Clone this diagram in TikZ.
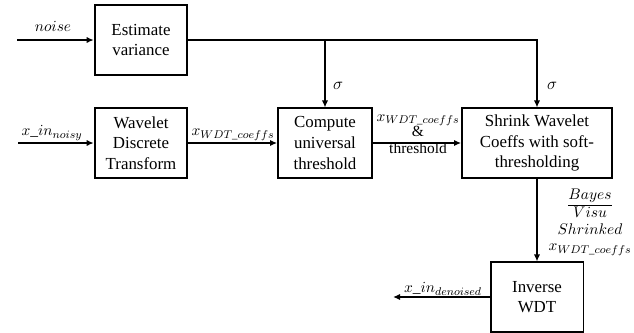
\documentclass[tikz,border=0pt]{standalone}
\usepackage{amsmath}
\usepackage{fontspec}
\setmainfont{Liberation Serif}
\usetikzlibrary{arrows.meta,positioning}

\begin{document}
\begin{tikzpicture}[x=0.025cm,y=-0.025cm,
    blk/.style={draw,line width=1.3pt,align=center,inner sep=2pt,
      minimum width=2.32cm,minimum height=1.73cm,
      font=\fontsize{12}{14.6}\selectfont},
    lnk/.style={line width=1.1pt,-{Latex[length=5pt,width=4.5pt]}},
    lbl/.style={inner sep=1pt,font=\fontsize{11}{13}\selectfont}]
  \useasboundingbox (0,0) rectangle (634,332);
  % blocks
  \node[blk] (est) at (141,40) {Estimate\\variance};
  \node[blk] (wdt) at (141,143) {Wavelet\\Discrete\\Transform};
  \node[blk,minimum width=2.35cm] (comp) at (325,143) {Compute\\universal\\threshold};
  \node[blk,minimum width=3.75cm] (shrink) at (537,143) {Shrink Wavelet\\Coeffs with soft-\\thresholding};
  \node[blk] (inv) at (537,297) {Inverse\\WDT};
  % free ends
  \coordinate (noisein) at (17,40);
  \coordinate (xin) at (18,143);
  \coordinate (xout) at (393,297);
  % connectors
  \draw[lnk] (noisein) -- (est);
  \draw[lnk] (est.east) -| (shrink.north);
  \draw[lnk] (est.east -| comp.north) -- (comp.north);
  \draw[lnk] (xin) -- (wdt);
  \draw[lnk] (wdt) -- (comp);
  \draw[lnk] (comp) -- (shrink);
  \draw[lnk] (shrink) -- (inv);
  \draw[lnk] (inv) -- (xout);
  % labels
  \node[lbl] (lnoise) at (53,26) {$noise$};
  \node[lbl] (lxin) at (52,133) {$x\_in_{noisy}$};
  \node[lbl] (lcoef) at (233,135) {$x_{WDT\_coeffs}$};
  \node[lbl,font=\fontsize{13}{15}\selectfont] (sig1) at (338,86) {$\sigma$};
  \node[lbl,font=\fontsize{13}{15}\selectfont] (sig2) at (552,86) {$\sigma$};
  \node[lbl,align=center] (lthr) at (418,134)
    {$x_{WDT\_coeffs}$\\[-2pt]\&\\[-1pt]threshold};
  \node[lbl] (lfrac) at (590,205) {\renewcommand{\arraystretch}{0.9}%
    \begin{tabular}{@{}c@{}}$Bayes$\\[1pt]\hline$Visu$\end{tabular}};
  \node[lbl] (lshr) at (590,229) {$Shrinked$};
  \node[lbl] (lcoef2) at (590,250) {$x_{WDT\_coeffs}$};
  \node[lbl] (lxout) at (443,289) {$x\_in_{denoised}$};
\end{tikzpicture}
\end{document}
